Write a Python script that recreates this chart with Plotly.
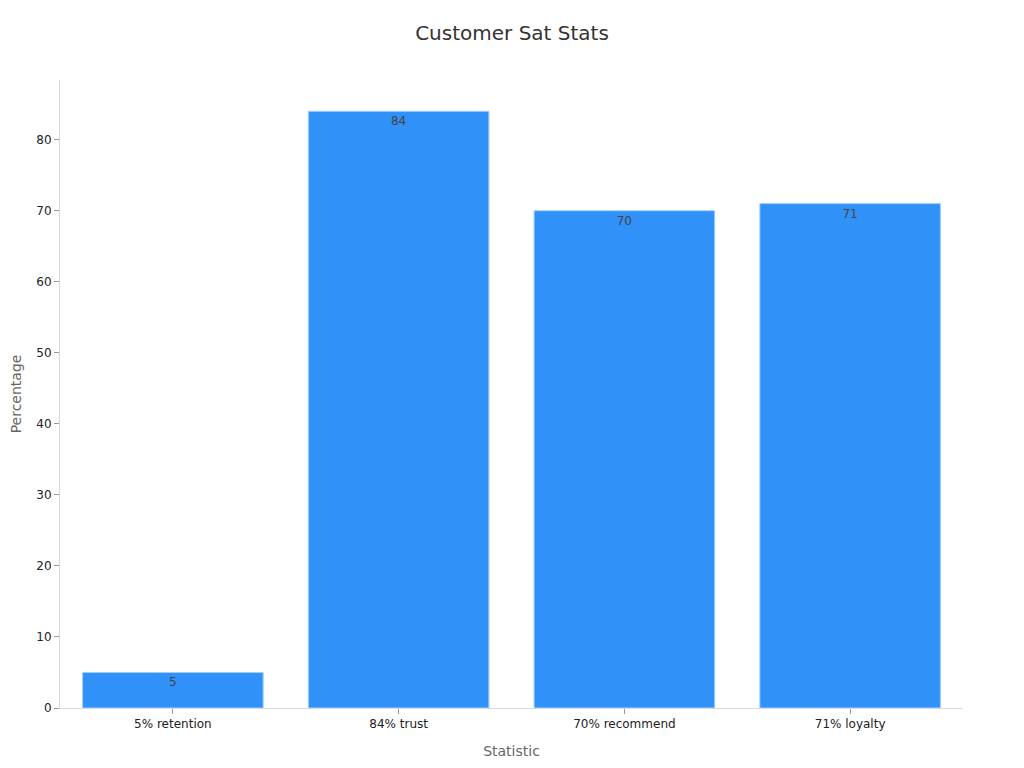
import plotly.graph_objects as go

categories = ["5% retention", "84% trust", "70% recommend", "71% loyalty"]
values = [5, 84, 70, 71]

fig = go.Figure(go.Bar(
    x=categories,
    y=values,
    text=[str(v) for v in values],
    textposition="inside",
    insidetextanchor="end",
    textfont=dict(color="#444444", size=12),
    marker=dict(color="#3092F8", line=dict(color="#9FD0FF", width=1)),
))

fig.update_layout(
    width=1024, height=768,
    paper_bgcolor="white", plot_bgcolor="white",
    font=dict(family="DejaVu Sans", color="#222222", size=12),
    title=dict(text="Customer Sat Stats", x=504 / 1024, xanchor="center",
               y=1 - 25 / 768, yanchor="middle",
               font=dict(size=20, color="#333333")),
    margin=dict(l=52, r=69, t=72, b=68),
    bargap=0.2,
    showlegend=False,
    xaxis=dict(
        title=dict(text="Statistic", font=dict(size=14, color="#666666"), standoff=15),
        showline=True, linecolor="#D9D9D9", linewidth=1,
        ticks="outside", tickcolor="#999999", ticklen=5,
        showgrid=False, automargin=False,
        tickfont=dict(size=12, color="#222222"),
    ),
    yaxis=dict(
        title=dict(text="Percentage", font=dict(size=14, color="#666666"), standoff=19),
        range=[0, 88.4],
        dtick=10,
        showline=True, linecolor="#D9D9D9", linewidth=1,
        ticks="outside", tickcolor="#999999", ticklen=5,
        showgrid=False, zeroline=False, automargin=False,
        tickfont=dict(size=12, color="#222222"),
    ),
)

fig.write_html("out.html")
